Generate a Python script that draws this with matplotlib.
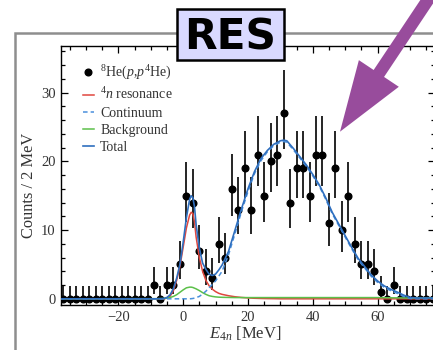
import matplotlib
matplotlib.use("Agg")
import matplotlib.pyplot as plt
import matplotlib.patches as patches
import numpy as np

plt.rcParams['font.family'] = 'Liberation Serif'
plt.rcParams['mathtext.fontset'] = 'custom'
plt.rcParams['mathtext.rm'] = 'Liberation Serif'
plt.rcParams['mathtext.it'] = 'Liberation Serif:italic'

# measured spectrum, 2 MeV bins
energy = np.arange(-37, 79, 2)
counts = np.array([0, 0, 0, 0, 0, 0, 0, 0, 0, 0, 0, 0, 0, 0,
                   2, 0, 2, 2, 5, 15, 14, 7, 4, 3, 8, 6, 16, 13, 19, 13,
                   21, 15, 20, 21, 27, 14, 19, 19, 15, 21, 21, 11, 19, 10,
                   15, 8, 5, 5, 4, 1, 0, 2,
                   0, 0, 0, 0, 0, 0])

# fit curves
curve_e = [-38, -8, -6, -5, -4, -3, -2, -1, 0, 1, 2, 2.5, 3, 3.5, 4, 5, 6, 7,
           8, 9, 10, 11, 12, 14, 16, 18, 20, 22, 24, 26, 28, 30, 31, 32, 34,
           36, 38, 40, 42, 44, 46, 48, 50, 52, 54, 56, 58, 60, 62, 64, 66, 68,
           70, 72, 78]
resonance = [0, 0, 0, 0.1, 0.4, 1.2, 2.7, 4.7, 7.5, 10.3, 12.2, 12.6, 12.4,
             11.2, 9.0, 6.0, 4.0, 2.7, 1.9, 1.4, 1.05, 0.8, 0.65, 0.45, 0.3,
             0.2, 0.13, 0.08, 0.05, 0.03, 0.02, 0, 0, 0, 0, 0, 0, 0, 0, 0, 0,
             0, 0, 0, 0, 0, 0, 0, 0, 0, 0, 0, 0, 0, 0]
continuum = [0, 0, 0, 0, 0, 0, 0, 0, 0, 0, 0, 0.02, 0.05, 0.1, 0.18, 0.35,
             0.7, 1.1, 1.6, 2.1, 2.6, 3.3, 4.0, 6.4, 9.5, 12.7, 15.6, 18.2,
             20.1, 21.4, 22.3, 22.8, 22.9, 22.8, 21.7, 20.5, 19.3, 17.9, 16.4,
             14.5, 12.4, 10.7, 9.0, 7.3, 5.7, 4.5, 3.3, 2.4, 1.7, 1.2, 0.8,
             0.35, 0.05, 0, 0]
background = [0, 0.02, 0.05, 0.1, 0.2, 0.35, 0.6, 0.95, 1.3, 1.6, 1.7, 1.7,
              1.65, 1.55, 1.45, 1.2, 0.9, 0.65, 0.45, 0.35, 0.28, 0.24, 0.22,
              0.2, 0.18, 0.18, 0.18, 0.18, 0.18, 0.18, 0.18, 0.18, 0.18, 0.18,
              0.18, 0.18, 0.18, 0.18, 0.18, 0.18, 0.18, 0.18, 0.18, 0.18,
              0.18, 0.18, 0.18, 0.18, 0.16, 0.15, 0.14, 0.13, 0.12, 0.12, 0.12]
total = [0, 0, 0.05, 0.2, 0.6, 1.5, 3.0, 5.0, 8.2, 11.8, 14.5, 15.0, 14.7,
         13.4, 10.8, 7.4, 5.2, 4.3, 3.6, 3.4, 3.6, 4.2, 4.9, 6.9, 10.0, 13.1,
         16.0, 18.5, 20.4, 21.6, 22.5, 23.0, 23.1, 23.0, 21.9, 20.7, 19.5,
         18.1, 16.6, 14.7, 12.6, 10.9, 9.2, 7.5, 5.9, 4.7, 3.5, 2.6, 1.9, 1.4,
         1.0, 0.55, 0.2, 0.12, 0.12]

# Poisson-like asymmetric errors
err_hi = np.sqrt(counts + 0.75) + 1.0
err_lo = np.where(counts > 0, np.sqrt(np.clip(counts - 0.25, 0, None)), 0)

fig = plt.figure(figsize=(4.33, 3.5), dpi=100)

# grey panel frame behind everything
frame = patches.Rectangle((14.5 / 433, -0.1), 2.0, 1.1 - 33.3 / 350,
                          transform=fig.transFigure, fill=False,
                          edgecolor='#8e8e8e', linewidth=1.8, zorder=-1)
fig.add_artist(frame)

ax = fig.add_axes([61 / 433, 45 / 350, 373.9 / 433, 259 / 350])

eb = ax.errorbar(energy, counts, yerr=[err_lo, err_hi], fmt='o', color='black',
                 ms=4.8, elinewidth=1.2, capsize=0, zorder=2)

l_res, = ax.plot(curve_e, resonance, color='#e0463e', lw=1.1, zorder=3)
l_cont, = ax.plot(curve_e, continuum, color='#4a90dc', lw=1.1, ls=(0, (3, 2)),
                  zorder=4)
l_bg, = ax.plot(curve_e, background, color='#5cc04a', lw=1.1, zorder=3)
l_tot, = ax.plot(curve_e, total, color='#2f6fbf', lw=1.2, zorder=5)

ax.set_xlim(-37.7, 77.7)
ax.set_ylim(-0.9, 36.8)
ax.set_xticks([-20, 0, 20, 40, 60])
ax.set_xticks(np.arange(-35, 78, 5), minor=True)
ax.set_yticks([0, 10, 20, 30])
ax.set_yticks(np.arange(0, 37, 2), minor=True)
ax.tick_params(which='both', direction='in', top=True, right=True,
               labelsize=10.5, labelcolor='#333333', width=0.9)
ax.tick_params(which='major', length=5, pad=4)
ax.tick_params(which='minor', length=3)
for s in ax.spines.values():
    s.set_linewidth(1.0)

ax.set_xlabel(r'$E_{4n}$ [MeV]', fontsize=12, color='#333333')
ax.xaxis.set_label_coords(0.492, -0.075)
ax.set_ylabel('Counts / 2 MeV', fontsize=11.8, color='#333333')
ax.yaxis.set_label_coords(-0.064, 0.46)

ax.legend([eb.lines[0], l_res, l_cont, l_bg, l_tot],
          [r'$^{8}$He($p$,$p^{4}$He)', r'$^{4}n$ resonance', 'Continuum',
           'Background', 'Total'],
          loc='upper left', bbox_to_anchor=(0.058, 0.93), frameon=False,
          fontsize=10, handlelength=0.8, handletextpad=0.45,
          labelspacing=0.3, borderpad=0, borderaxespad=0,
          labelcolor='#333333')

# "RES" tag
box = patches.Rectangle((176.7 / 433, 1 - 60 / 350), 107.6 / 433, 50.7 / 350,
                        transform=fig.transFigure, facecolor='#d9d9ff',
                        edgecolor='black', linewidth=1.8, zorder=10)
fig.add_artist(box)
fig.text(230.5 / 433, 1 - 49.3 / 350, 'RES', ha='center', va='baseline',
         fontsize=30.5, fontweight='bold', family='DejaVu Sans', zorder=11)

# purple pointer arrow (inches)
arrow = patches.FancyArrow(4.412, 3.70, -1.012, -1.517, width=0.125,
                           head_width=0.48, head_length=0.70,
                           length_includes_head=True,
                           transform=fig.dpi_scale_trans,
                           facecolor='#984c9c', edgecolor='none', zorder=12)
fig.add_artist(arrow)

fig.savefig('out.png', dpi=100)
